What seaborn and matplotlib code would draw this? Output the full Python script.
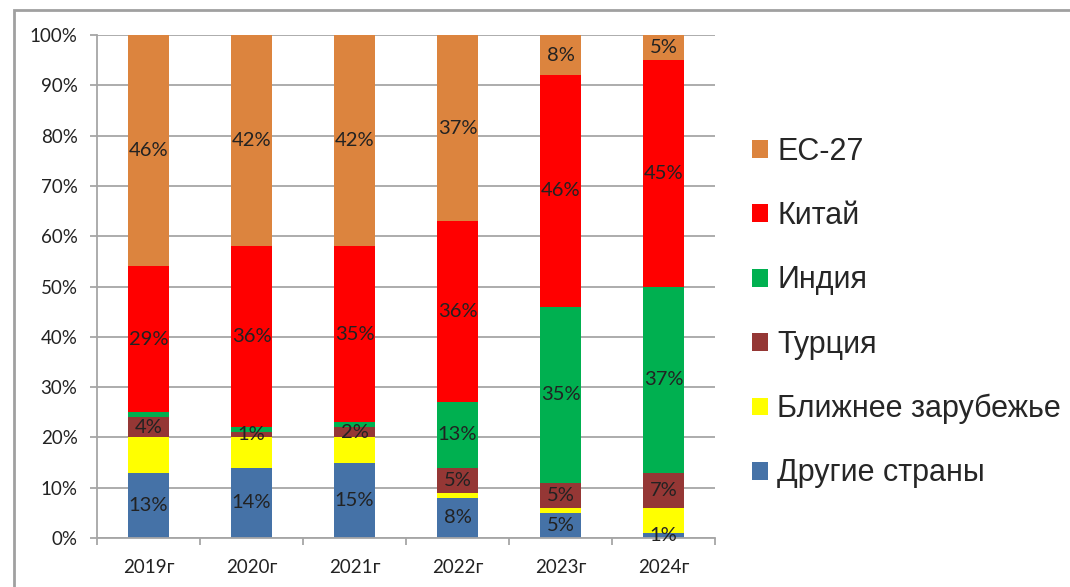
import matplotlib
matplotlib.use('Agg')
import seaborn as sns
import matplotlib.pyplot as plt
import pandas as pd
from matplotlib.patches import Rectangle

# Данные (доли, %), регионы снизу вверх
years = ['2019г', '2020г', '2021г', '2022г', '2023г', '2024г']
regions = ['Другие страны', 'Ближнее зарубежье', 'Турция', 'Индия', 'Китай', 'ЕС-27']
drugie = [13, 14, 15, 8, 5, 1]
blizhnee = [7, 6, 5, 1, 1, 5]
turcia = [4, 1, 2, 5, 5, 7]
india = [1, 1, 1, 13, 35, 37]
kitai = [29, 36, 35, 36, 46, 45]
es27 = [46, 42, 42, 37, 8, 5]

# какие подписи показаны на исходной диаграмме
show_labels = {
    'Другие страны': [1, 1, 1, 1, 1, 1],
    'Ближнее зарубежье': [0, 0, 0, 0, 0, 0],
    'Турция': [1, 1, 1, 1, 1, 1],
    'Индия': [0, 0, 0, 1, 1, 1],
    'Китай': [1, 1, 1, 1, 1, 1],
    'ЕС-27': [1, 1, 1, 1, 1, 1],
}
colors = {
    'Другие страны': '#4572A7',
    'Ближнее зарубежье': '#FFFF00',
    'Турция': '#953735',
    'Индия': '#00B050',
    'Китай': '#FF0000',
    'ЕС-27': '#DC843E',
}

df = pd.DataFrame({'year': years, 'Другие страны': drugie, 'Ближнее зарубежье': blizhnee,
                   'Турция': turcia, 'Индия': india, 'Китай': kitai, 'ЕС-27': es27})
cum = df[regions].cumsum(axis=1)

sns.set_style('white')
plt.rcParams['font.family'] = ['Lato', 'DejaVu Sans']

fig = plt.figure(figsize=(10.7, 5.87), dpi=100)
ax = fig.add_axes([97 / 1070, 49 / 587, 618 / 1070, 503 / 587])

# накопленные столбцы рисуем сверху вниз, чтобы получить стек
for r in reversed(regions):
    sns.barplot(x=df['year'], y=cum[r], color=colors[r], saturation=1, width=0.4,
                label=r, ax=ax, edgecolor='none')

# подписи значений в середине сегментов
for r in regions:
    base = cum[r] - df[r]
    for i, y in enumerate(years):
        if show_labels[r][i]:
            ax.text(i, base[i] + df[r][i] / 2, f'{df[r][i]}%', ha='center', va='center',
                    fontsize=14.5, color='#222222')

ax.set_ylim(0, 100)
ax.set_xlim(-0.5, 5.5)
ax.set_yticks(range(0, 101, 10))
ax.set_yticklabels([f'{t}%' for t in range(0, 101, 10)])
ax.set_xlabel('')
ax.set_ylabel('')
ax.yaxis.grid(True, color='#A6A6A6', lw=1.3)
ax.set_axisbelow(True)
for s in ['top', 'right']:
    ax.spines[s].set_visible(False)
for s in ['left', 'bottom']:
    ax.spines[s].set_color('#A6A6A6')
    ax.spines[s].set_linewidth(1.3)
ax.tick_params(axis='y', which='major', length=5, width=1.3, color='#A6A6A6',
               labelsize=13.5, pad=9, left=True, labelcolor='#222222')
ax.tick_params(axis='x', which='major', length=0, labelsize=13.5, pad=15, labelcolor='#222222')
ax.set_xticks([i - 0.5 for i in range(7)], minor=True)
ax.tick_params(axis='x', which='minor', length=5, width=1.3, color='#A6A6A6', bottom=True)

# легенда
leg = ax.legend(loc='upper left', bbox_to_anchor=(752 / 1070, 1 - 137 / 587),
                bbox_transform=fig.transFigure, frameon=False, prop={'family': 'Liberation Sans', 'size': 22},
                handlelength=0.52, handleheight=0.52, handletextpad=0.3, labelspacing=1.12,
                borderpad=0, borderaxespad=0)

# рамка области диаграммы
fig.patches.append(Rectangle((14 / 1070, -0.1), 1.2, 1.1 - 10 / 587, transform=fig.transFigure,
                             fill=False, edgecolor='#A0A0A0', lw=2))

plt.savefig('out.png', dpi=100)
